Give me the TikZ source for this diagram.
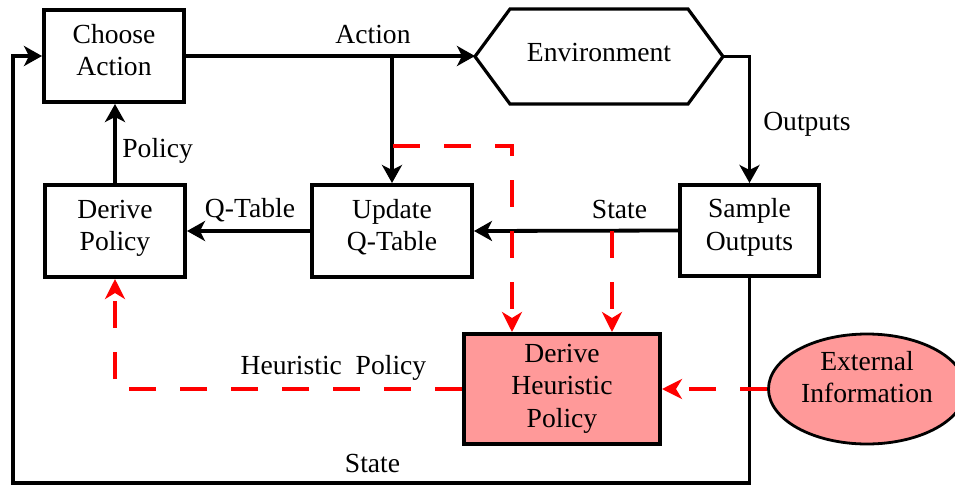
\documentclass[tikz,border=0pt]{standalone}
\usepackage{fontspec}
\setmainfont{Liberation Serif}
\newfontfamily\diagfont{Liberation Serif}
\usetikzlibrary{arrows.meta,shapes.geometric,calc}

\definecolor{heurfill}{RGB}{255,153,153}
\definecolor{heurred}{RGB}{255,0,0}

\tikzset{
  every node/.style={font=\diagfont\fontsize{13.8pt}{16.25pt}\selectfont},
  box/.style={draw=black, line width=2pt, rectangle, align=center, inner sep=0pt,
              minimum width=70pt, minimum height=46pt},
  twoline/.style={text height=24pt, text depth=4.5pt},
  conn/.style={draw=black, line width=1.9pt, -{Stealth[length=9pt,width=10pt,inset=2.5pt]}},
  heurconn/.style={draw=heurred, line width=2pt, dash pattern=on 13.5pt off 12pt,
                   -{Stealth[length=10pt,width=10pt,inset=3pt]}},
  lbl/.style={anchor=base, inner sep=0pt},
}

\begin{document}
\begin{tikzpicture}[x=0.5pt,y=-0.5pt]
\useasboundingbox (0,0) rectangle (955,488);

% main loop blocks
\node[box, twoline] (choose) at (114,56) {Choose\\Action};
\node[box, twoline] (derive) at (115,231) {Derive\\Policy};
\node[box, twoline, minimum width=80pt] (update) at (392,231) {Update\\Q-Table};
\node[box, twoline, minimum width=69.5pt, minimum height=45.5pt] (sample) at (749.5,230.5) {Sample\\Outputs};

% environment as a hexagon around a plain node
\node[inner sep=0pt, outer sep=0pt, minimum width=124pt, minimum height=47.5pt,
      text height=10pt, text depth=5pt] (env) at (599,56.5) {Environment};
\draw[line width=1.6pt, line join=miter]
  (env.west) -- ([xshift=17.5pt]env.north west) -- ([xshift=-17.5pt]env.north east)
  -- (env.east) -- ([xshift=-17.5pt]env.south east) -- ([xshift=17.5pt]env.south west) -- cycle;

% heuristic part
\node[box, fill=heurfill, minimum width=98pt, minimum height=55pt,
      text height=42pt, text depth=4pt] (heur) at (562,389) {Derive\\Heuristic\\Policy};
\node[ellipse, draw=black, line width=1.4pt, fill=heurfill, align=center, inner sep=0pt,
      minimum width=98.5pt, minimum height=55pt, text height=18pt, text depth=4.5pt]
      (ext) at (867,389) {External\\Information};

% black connectors
\draw[conn] (choose.east) -- (choose.east -| env.west);
\draw[conn] (update.north |- choose.east) -- (update.north);
\draw[conn] (env.east) -| (sample.north);
\draw[conn] (sample.west) -- (update.east);
\draw[conn] (update.west) -- (derive.east);
\draw[conn] (derive.north) -- (derive.north |- choose.south);
\coordinate (loopbl) at (13,483);
\draw[conn] (sample.south) |- (loopbl) |- (choose.west);

% red dashed connectors
\coordinate (tapaction) at (393,146);
\coordinate (tapstate) at (612,231);
\draw[heurconn] (tapaction) -| ($(heur.north west)!0.25!(heur.north east)$);
\draw[heurconn] (tapstate) -- (tapstate |- heur.north);
\draw[heurconn] (heur.west) -| (derive.south);
\draw[heurconn] (ext.west) -- (heur.east);

% labels
\node[lbl] (lblaction) at (373,43) {Action};
\node[lbl] (lbloutputs) at (807,130) {Outputs};
\node[lbl] (lblstate) at (619.5,218) {State};
\node[lbl] (lblqtable) at (250,217) {Q-Table};
\node[lbl, anchor=base west] (lblpolicy) at (122,157) {Policy};
\node[lbl] (lblheur) at (333.5,374) {Heuristic\ \ Policy};
\node[lbl] (lblstatebot) at (372.5,472) {State};
\end{tikzpicture}
\end{document}
